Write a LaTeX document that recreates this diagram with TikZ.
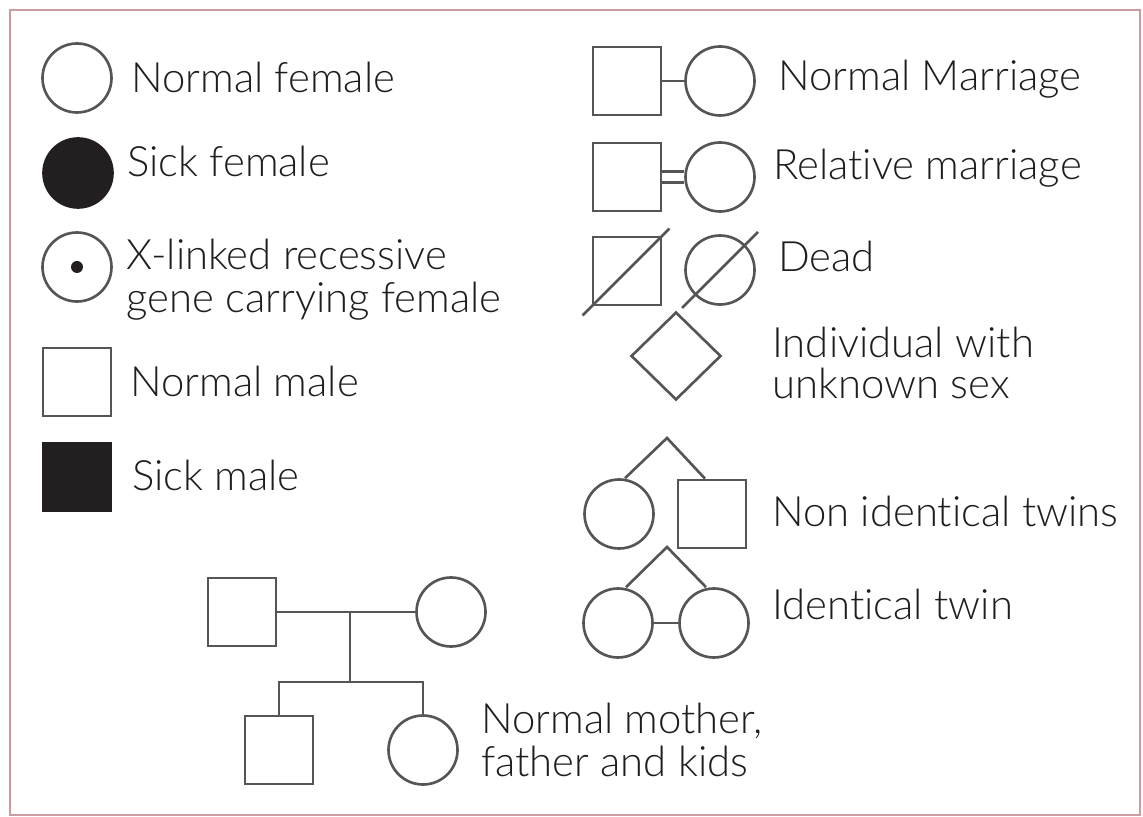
\documentclass[tikz,border=0pt]{standalone}
\usepackage{fontspec}
\setmainfont{Lato Light}[Ligatures=NoCommon]
\usetikzlibrary{shapes.geometric,calc}
\definecolor{framepink}{RGB}{205,155,160}
\definecolor{symgray}{RGB}{85,85,85}
\definecolor{inkdark}{RGB}{35,31,32}
\definecolor{txtgray}{RGB}{30,30,30}
\begin{document}
\begin{tikzpicture}[x=0.1mm,y=-0.1mm,line width=0.75pt,
  female/.style={circle,draw=symgray,inner sep=0pt,minimum size=6.9mm},
  male/.style={rectangle,draw=symgray,inner sep=0pt,minimum size=6.8mm},
  sick/.style={fill=inkdark,draw=inkdark},
  unknownsex/.style={diamond,draw=symgray,inner sep=0pt,minimum width=9mm,minimum height=8.8mm},
  tie/.style={draw=symgray},
  lbl/.style={anchor=base west,inner sep=0pt,text=txtgray,font=\fontsize{11.9}{12}\selectfont}]
\useasboundingbox (0,0) rectangle (1143,817);
\draw[framepink,line width=0.6pt] (10,10) rectangle (1140,815);
% left column: single symbols
\node[female] (nf) at (77,78) {};
\node[lbl] (nftxt) at (130,93) {Normal female};
\node[female,sick] (sf) at (78,173) {};
\node[lbl] (sftxt) at (126,177) {Sick female};
\node[female] (cf) at (77,267) {};
\fill[inkdark] (cf.center) circle (0.6mm);
\node[lbl] (cftxta) at (125,270) {X-linked recessive};
\node[lbl] (cftxtb) at (125,313) {gene carrying female};
\node[male] (nm) at (77,382) {};
\node[lbl] (nmtxt) at (129,397) {Normal male};
\node[male,sick] (sm) at (77,477) {};
\node[lbl] (smtxt) at (131,490) {Sick male};
% family: parents and kids
\node[male] (father) at (242,612) {};
\node[female] (mother) at (451,612) {};
\node[male] (son) at (279,750) {};
\node[female] (daughter) at (423,750) {};
\coordinate (mid) at (350,612);
\coordinate (sib) at (350,682);
\draw[tie] (father.east) -- (mother.west);
\draw[tie] (mid) -- (sib);
\draw[tie] (son.north) |- (sib) -| (daughter.north);
\node[lbl] (famtxta) at (480,733) {Normal mother,};
\node[lbl] (famtxtb) at (480,776) {father and kids};
% right column: marriages
\node[male] (nmh) at (627,81) {};
\node[female] (nmw) at (720,81) {};
\draw[tie] (nmh.east) -- (nmw.west);
\node[lbl] (nmtxt2) at (777,91) {Normal Marriage};
\node[male] (rmh) at (627,177) {};
\node[female] (rmw) at (720,177) {};
\draw[tie] ([yshift=0.55mm]rmh.east) -- ([yshift=0.55mm]rmw.west);
\draw[tie] ([yshift=-0.55mm]rmh.east) -- ([yshift=-0.55mm]rmw.west);
\node[lbl] (rmtxt) at (772,180) {Relative marriage};
% dead
\node[male] (dm) at (627,271) {};
\node[female] (dw) at (720,270) {};
\draw[tie] ($(dm.south west)!-0.13!(dm.north east)$) -- ($(dm.north east)!-0.1!(dm.south west)$);
\draw[tie] ($(dw.center)!1.5!(dw.south west)$) -- ($(dw.center)!1.5!(dw.north east)$);
\node[lbl] (dtxt) at (777,272) {Dead};
% unknown sex
\node[unknownsex] (us) at (676,356) {};
\node[lbl] (ustxta) at (771,358) {Individual with};
\node[lbl] (ustxtb) at (771,398) {unknown sex};
% twins
\coordinate (nitop) at (667,438);
\node[female] (nit1) at (619,514) {};
\node[male] (nit2) at (712,514) {};
\draw[tie] ([xshift=0.6mm]nit1.north) -- (nitop) -- ([xshift=-0.7mm]nit2.north);
\node[lbl] (nittxt) at (771,526) {Non identical twins};
\coordinate (ittop) at (667,547);
\node[female] (it1) at (618,623) {};
\node[female] (it2) at (714,623) {};
\draw[tie] ([xshift=0.8mm]it1.north) -- (ittop) -- ([xshift=-0.8mm]it2.north);
\draw[tie] (it1.east) -- (it2.west);
\node[lbl] (ittxt) at (771,619) {Identical twin};
\end{tikzpicture}
\end{document}
